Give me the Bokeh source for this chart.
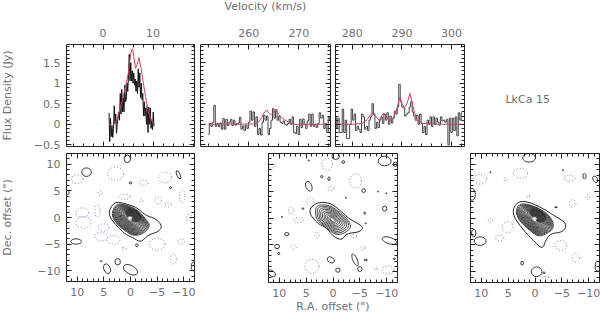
from bokeh.embed import file_html
from bokeh.resources import INLINE
from bokeh.plotting import figure
from bokeh.layouts import column, row
from bokeh.models import LinearAxis, FixedTicker, Range1d
from bokeh.core.properties import value

# ---------- spectra ----------
v1_start, v1_step = 1.2, 0.15
flux1 = [.28,-.42,.15,-.3,-.05,-.32,-.1,.45,.02,.25,-.22,.0,.15,.3,.1,.75,.25,.85,.3,.65,.3,.95,.55,.6,1.0,.8,1.2,1.7,1.05,1.5,
         1.05,1.3,1.0,1.25,.95,1.1,.8,1.05,.75,1.35,.9,1.25,.65,1.0,.6,.75,.2,.55,.2,.4,.0,.45,-.2,.42,.0,.4,-.1,.1,-.13,.3,-.05]
model1_v = [1.2,2,2.6,3,3.5,4,4.5,5,5.3,5.6,5.9,6.2,6.5,6.8,7.2,7.6,8,8.5,9,9.5,10,10.4]
model1_f = [0,-.03,.05,.2,.42,.65,.92,1.2,1.5,1.75,1.84,1.62,1.36,1.45,1.62,1.38,1.05,.68,.35,.15,.03,0]

v2_start, v2_step = 252.0, 0.3
flux2 = [-.25,.02,-.05,.05,.46,-.05,.02,-.06,.03,-.12,.14,-.12,.12,-.03,.05,.12,-.03,.1,-.02,.02,.03,.17,-.12,-.04,-.15,-.02,-.1,.05,.32,.1,
         .3,-.05,.18,-.25,-.1,-.26,.05,.22,.1,.2,-.25,-.1,.1,.38,.15,.36,.1,.2,.05,.02,.08,.0,-.02,.02,.12,.0,.18,-.2,-.22,-.05,
         -.25,.12,-.08,.13,.0,-.1,.08,.25,-.05,.25,-.05,.0,-.08,.02,.28,.15,.22,-.1,.02,-.2,.18,.1]
model2_v = [252,255,258,261,262,262.6,263,263.6,264,264.4,265,265.4,266,266.5,267,268,268.8,272,276]
model2_f = [0,.01,0,.01,.06,.16,.27,.35,.27,.23,.3,.33,.24,.17,.12,.05,0,0,0]

v3_start, v3_step = 276.6, 0.3
flux3 = [.18,-.08,.15,-.2,-.2,.37,-.2,.1,-.35,-.35,.0,.37,.1,.25,-.15,-.05,-.12,-.2,.25,.18,-.12,-.05,-.15,.1,.18,.5,.25,-.1,.05,-.08,
         .1,.18,.02,.25,.1,.28,.0,.2,.03,.15,.32,.25,.42,.97,.55,.42,.4,.2,.25,.28,.42,.55,.3,.2,.1,.22,.0,.25,.02,-.2,
         -.05,-.25,.1,.0,.18,-.05,.18,.0,.15,.05,-.02,.18,.08,.1,.05,.12,-.5,.15,-.2,.15,-.15,.18,-.28,.28,.1,.28]
model3_v = [276.6,280,282,283,283.6,284,284.6,285.4,285.9,286.3,286.9,287.5,288.2,288.8,289.3,289.6,290,290.5,291,291.6,292,292.5,293,294,298,302]
model3_f = [0,0,.02,.12,.22,.27,.2,.1,.2,.27,.18,.08,.15,.3,.55,.66,.5,.4,.5,.75,.55,.3,.1,.02,0,0]

# ---------- maps: contour outlines (RA, Dec) ----------
outerA = [(3.1,3.0),(.9,2.6),(-1.25,1.85),(-2.8,.4),(-4.7,-.2),(-6,-1.6),(-5.2,-2.7),(-3.4,-3.2),(-1.9,-4.7),(-.6,-3.85),(.9,-3.2),(2.5,-1.7),(4.3,.6)]
coreA = [(2.8,2.7),(.6,2.4),(-1.6,1.3),(-3,-.4),(-3.8,-1.6),(-2.8,-2.8),(-1.6,-3.4),(-.3,-3.4),(1.1,-2.5),(2.6,-1.3),(3.7,.5)]
outerB = [(3.1,2.9),(.75,2.9),(-1.1,1.65),(-3,-.2),(-5.7,-1.55),(-5.1,-2.6),(-2.4,-2.9),(-1.75,-4.1),(-.2,-3.6),(1.4,-1.65),(2.9,-1.05),(4.7,1.25)]
coreB = [(3.1,2.5),(.8,2.5),(-1.1,1.3),(-2.9,-.4),(-3.5,-1.7),(-2.4,-2.8),(-.6,-3.3),(1.2,-1.9),(3,-.5),(3.4,1)]
outerC = [(3.2,3.2),(.8,2.9),(-1.7,1.65),(-3.6,.4),(-5.95,-.95),(-5.3,-2.6),(-2.9,-2.9),(-2,-4.1),(-1.4,-5.9),(.5,-4),(2.4,-2),(4.4,.95)]
coreC = [(3,2.8),(.7,2.5),(-1.6,1.4),(-3.3,-.2),(-3.6,-1.9),(-2.4,-2.9),(-.6,-3.6),(1.3,-2.1),(3,-.5),(3.7,1.2)]
dense_levels = [.98,.93,.88,.83,.78,.73,.68,.63,.58,.53,.48,.43,.38,.33,.28,.23,.18,.13]
sparse_levels = [.98,.88,.78,.68,.58,.48,.39,.3,.21,.13]

# (RA, Dec, width, height, angle in radians)
solidA = [(8.25,8.5,1.8,1.6,0),(.6,11,1.2,1.4,0),(-9,8,.6,1.7,.4),(0,6.5,.5,.4,0),(-7.5,5.6,.4,.4,0),(10.2,-4.5,2,1,0),(4.4,-9.6,1.2,1.9,.4),
          (2.4,-8.3,1,1.2,0),(0,-9.8,2.9,1.6,-.5),(-1.2,-5.2,.5,.5,0),(5.5,-8.2,.3,.2,0),(-11.8,-9.2,.8,1.6,0),(11.8,4.7,.6,.8,0)]
dotA = [(10,7.2,2.2,1.6,0),(2.8,8.2,3,2.5,0),(-2.5,6.5,1.6,1,0),(-6.5,7.5,2.5,2,0),(5.7,4.6,.8,.8,0),(1.1,3.9,2,1,0),(-2,3.2,.6,.6,0),
        (-5.2,3.2,1.2,1.4,0),(-7,2.4,1.2,.8,0),(-9.7,4,1,2.4,0),(6.2,1.3,1,2.4,0),(9,.9,2.4,1.8,0),(8.8,-.9,2.8,2.2,0),(-11,0,1,1.2,0),
        (5,-1.9,2,1.4,0),(5.5,-3.6,2.4,1.6,0),(3.2,-4.2,2.4,1.6,0),(-5,-5,3,2.2,0),(-9.5,-4.5,1.2,1,0),(1.2,-5.8,.8,.4,0),(-8,-7.8,1.2,1.8,0)]
solidB = [(4.5,5.9,1.1,1.9,.4),(.75,7.3,.4,.7,0),(2.1,7.7,.4,.4,0),(-1.9,10.4,.5,.5,0),(-.5,11.5,1.4,1.2,0),(-9.6,10.6,2.4,1.8,0),(-11.6,10,.8,.8,0),
          (-5.7,5.1,.7,.7,0),(-8.4,4.9,.2,.2,0),(-9.9,4.6,.2,.2,0),(-9.6,1.75,.8,.9,0),(-5.9,.9,.3,.4,0),(-6.1,-1,.2,.2,0),(-10.5,-4.2,2.8,1.2,-.3),
          (8.6,-3,.8,.6,0),(10.4,-5.3,.9,.8,0),(10.1,-6.6,.4,.4,0),(.4,-7.8,1.4,1,-.5),(-.9,-9.7,.8,.8,0),(-4.1,-7.8,.8,2.4,.4),(-6.1,-7.8,.6,.3,0),
          (-5,-9.5,.8,.9,0),(11.4,-10.3,1.6,1,-.7),(-11.4,-7.6,.3,.3,0),(5.6,1.75,.3,.3,0),(9.5,.2,.2,.2,0),(-2.4,3.75,.2,.2,0),(4.5,10.7,.2,.2,0)]
dotB = [(1.1,10,2,2.2,0),(11.4,9.7,1.6,.8,0),(-4.2,6.9,2.2,2.6,0),(.4,5.5,1.2,.8,0),(4.2,3,1.4,1.6,0),(7.8,1.4,1,1.2,0),(6.4,-.4,1.8,1,0),
        (7.3,-5.4,1,.8,0),(3,-3.1,.8,1,0),(-3.9,-3.4,1,.6,0),(-5.6,-5.6,.7,.7,0),(3.9,-9,2.6,2.6,0),(-10.2,-9.7,2.2,1.6,0),(-8,-9.5,.5,.5,0)]
solidC = [(1.1,11.2,2.4,1.6,0),(-9.2,7.8,.6,1,0),(-11.2,7.2,.8,1.3,.5),(11.7,4.4,1.2,2.2,0),(-3.9,2,.5,.15,0),(11.4,-2.8,.8,1.4,0),(10.2,-4.3,2.2,1.6,0),
          (2.4,-8.4,.5,.7,0),(-.3,-10,2,1.8,0),(-1.7,-10.2,.4,.3,0),(-11.7,-9,1,1.8,0),(8.3,8.5,.2,.2,0),(-5.2,8.9,.2,.2,0)]
dotC = [(10.2,7.2,2.4,1.8,0),(2.7,8.3,2.6,1.8,0),(5.5,7.2,.6,.6,0),(-6.4,7.4,2,1.2,0),(-7,2.7,1.2,1.4,0),(-9.8,3.9,.6,.9,0),(8.3,-.5,.8,.8,0),
        (5.1,-1.7,2,2,0),(6.6,-3.7,1.6,1,0),(-4.8,-5.1,2.2,1.8,0),(-7.6,-7.4,1.4,1.6,0),(1.2,4,.5,.5,0),(-2,-11,1.2,.3,0)]

map_ticks = [10, 5, 0, -5, -10]
map_minor = list(range(-12, 13))
flux_ticks = [-.5, 0, .5, 1, 1.5]
flux_minor = [round(-.5 + .1*i, 1) for i in range(25)]
flux_labels = {-.5: "\u22120.5", 0: "0", .5: "0.5", 1: "1", 1.5: "1.5"}
vel1_ticks = [0, 10]
vel2_ticks = [260, 270]
vel3_ticks = [280, 290, 300]

TXT = "#707070"
FONT = "DejaVu Sans"
FS = "11px"


def style(ax, labels, ticks):
    ax.axis_line_color = "#222222"
    ax.major_tick_line_color = "#222222"
    ax.minor_tick_line_color = "#222222"
    ax.major_tick_in = 5
    ax.major_tick_out = 0
    ax.minor_tick_in = 3
    ax.minor_tick_out = 0
    ax.major_label_text_color = TXT
    ax.major_label_text_font = FONT
    ax.major_label_text_font_size = FS
    ax.axis_label_text_color = TXT
    ax.axis_label_text_font = FONT
    ax.axis_label_text_font_size = FS
    ax.axis_label_text_font_style = "normal"
    ax.major_label_standoff = 8 if labels == "top" else 6
    if not labels:
        ax.major_label_overrides = {t: "" for t in ticks}
        ax.major_label_standoff = 0


def panel(xr, yr, fw, fh, bl, br, bt, bb, xt, xm, yt, ym, top=False, bottom=False, left=False, ylabels=None):
    p = figure(x_range=Range1d(*xr), y_range=Range1d(*yr), frame_width=fw, frame_height=fh,
               width=fw + bl + br, height=fh + bt + bb,
               min_border_left=bl, min_border_right=br, min_border_top=bt, min_border_bottom=bb,
               toolbar_location=None, output_backend="svg", x_axis_location=None, y_axis_location=None)
    p.grid.visible = False
    p.outline_line_color = None
    for loc, tk, mn, lab in (("below", xt, xm, bottom), ("above", xt, xm, "top" if top else False), ("left", yt, ym, left), ("right", yt, ym, False)):
        ax = LinearAxis(ticker=FixedTicker(ticks=tk, minor_ticks=mn))
        style(ax, lab, tk)
        if loc == "left" and ylabels:
            ax.major_label_overrides = ylabels
        p.add_layout(ax, loc)
    return p


def axis_at(p, loc):
    return getattr(p, loc)[0]


def spectrum(p, start, step, flux, mv, mf, color, lw, stepped=True):
    xs = [start + step * i for i in range(len(flux))]
    if stepped:
        p.step(xs, flux, mode="center", line_color=color, line_width=lw)
    else:
        p.line(xs, flux, line_color=color, line_width=lw)
    p.line(mv, mf, line_color="#d2405c", line_width=1)


YR = (-0.54, 1.94)
fig1 = panel((-7.3, 18.3), YR, 128, 102, 69, 3, 48, 7, vel1_ticks, list(range(-6, 19, 2)), flux_ticks, flux_minor,
             top=True, left=True, ylabels=flux_labels)
fig2 = panel((250.4, 276.3), YR, 130, 102, 3, 2, 48, 7, vel2_ticks, list(range(252, 277, 2)), flux_ticks, flux_minor, top=True)
fig3 = panel((276.6, 302.6), YR, 129, 102, 3, 2, 48, 7, vel3_ticks, list(range(278, 303, 2)), flux_ticks, flux_minor, top=True)
spectrum(fig1, v1_start, v1_step, flux1, model1_v, model1_f, "#111111", 1, stepped=False)
spectrum(fig2, v2_start, v2_step, flux2, model2_v, model2_f, "#444444", 1)
spectrum(fig3, v3_start, v3_step, flux3, model3_v, model3_f, "#444444", 1)
axis_at(fig1, "left").axis_label = "Flux Density (Jy)"
axis_at(fig1, "left").axis_label_standoff = 17
axis_at(fig2, "above").axis_label = "Velocity (km/s)"
axis_at(fig2, "above").axis_label_standoff = 13

figL = figure(x_range=Range1d(0, 1), y_range=Range1d(0, 1), width=136, height=157, toolbar_location=None,
              output_backend="svg", x_axis_location=None, y_axis_location=None,
              min_border_left=0, min_border_right=0, min_border_top=0, min_border_bottom=0)
figL.grid.visible = False
figL.outline_line_color = None
figL.text([0.45], [0.46], text=["LkCa 15"], text_font=value(FONT), text_font_size=value(FS), text_color=TXT,
          text_align="center", text_baseline="middle")


def smooth(points, passes=2):
    for _ in range(passes):
        out = []
        for i, (a, b) in enumerate(points):
            c, d = points[(i + 1) % len(points)]
            out += [(.75 * a + .25 * c, .75 * b + .25 * d), (.25 * a + .75 * c, .25 * b + .75 * d)]
        points = out
    return points


def mapping(p, outer, core, solid, dot, levels, dark):
    def polys(points, f=1.0, cx=0.0, cy=0.0):
        pts = smooth(points)
        return [cx + (a - cx) * f for a, b in pts], [cy + (b - cy) * f for a, b in pts]
    xs, ys = polys(outer)
    p.patch(xs, ys, fill_color=None, line_color="#222222", line_width=1)
    for lvl in levels:
        xs, ys = polys(core, lvl, 0.1, -0.3)
        p.patch(xs, ys, fill_color=None, line_color="#333333", line_width=0.9)
    if dark:
        for lvl in levels[6:]:
            xs, ys = polys(core, lvl * 0.6, -1.0, 1.0)
            p.patch(xs, ys, fill_color=None, line_color="#333333", line_width=0.9)
        p.ellipse([0.1], [-0.1], width=[0.8], height=[0.6], fill_color="white", line_color="#aaaaaa", line_width=0.5)
    for rows, kw in ((solid, dict(line_color="#222222", line_width=0.9)),
                     (dot, dict(line_color="#7078c4", line_width=1, line_dash="1 2"))):
        p.ellipse([r[0] for r in rows], [r[1] for r in rows], width=[r[2] for r in rows], height=[r[3] for r in rows],
                  angle=[r[4] for r in rows], fill_color=None, **kw)


MR = (-12, 12)
figA = panel((12, -12), MR, 128, 128, 69, 3, 0, 32, map_ticks, map_minor, map_ticks, map_minor, bottom=True, left=True)
figB = panel((12, -12), MR, 129, 129, 71, 3, 0, 31, map_ticks, map_minor, map_ticks, map_minor, bottom=True)
figC = panel((12, -12), MR, 129, 129, 70, 1, 0, 31, map_ticks, map_minor, map_ticks, map_minor, bottom=True)
mapping(figA, outerA, coreA, solidA, dotA, dense_levels, True)
mapping(figB, outerB, coreB, solidB, dotB, sparse_levels, False)
mapping(figC, outerC, coreC, solidC, dotC, dense_levels, True)
axis_at(figA, "left").axis_label = "Dec. offset (\")"
axis_at(figA, "left").axis_label_standoff = 20
axis_at(figB, "below").axis_label = "R.A. offset (\")"
axis_at(figB, "below").axis_label_standoff = 0

page = column(row(fig1, fig2, fig3, figL), row(figA, figB, figC), margin=(-4, 0, 0, -3))
open("out.html", "w").write(file_html(page, INLINE))
